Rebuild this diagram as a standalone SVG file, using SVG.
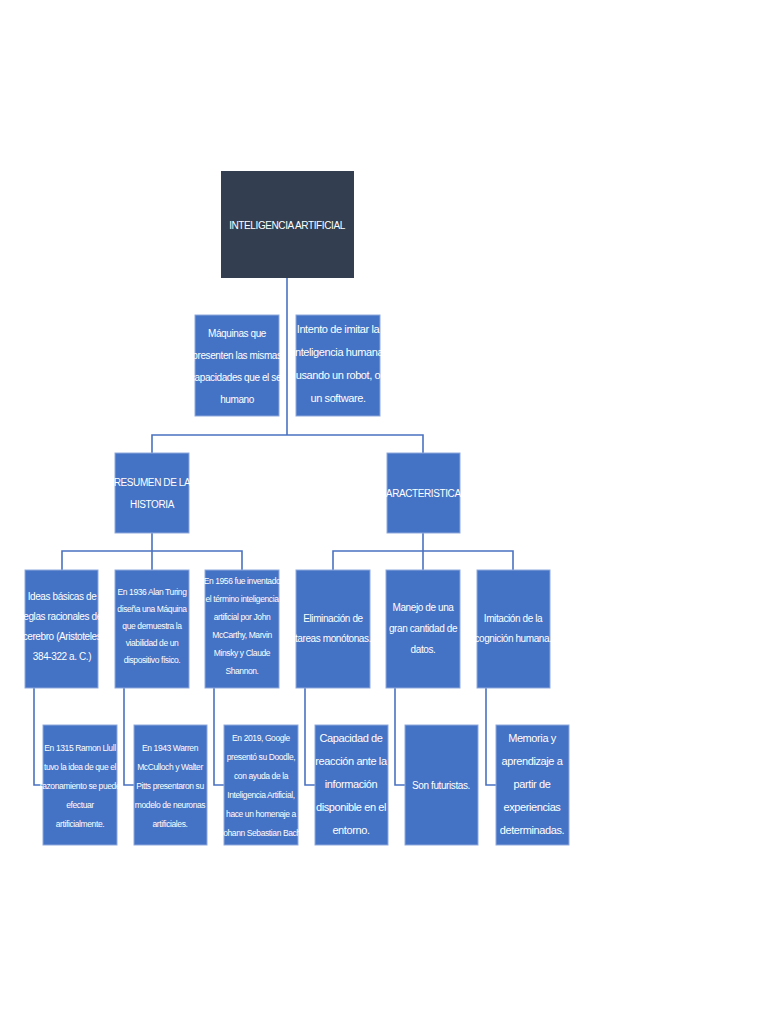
<svg xmlns="http://www.w3.org/2000/svg" width="768" height="1024" viewBox="0 0 768 1024">
<style>
.b{fill:#4472c4;stroke:#8fa9dc;stroke-width:1}
.t{font-family:"Liberation Sans",Arial,sans-serif;font-size:10px;fill:#fff;text-anchor:middle;letter-spacing:-0.4px}
.s{font-size:8.5px}
.c{fill:none;stroke:#4a72c0;stroke-width:1.6}
</style>
<rect width="768" height="1024" fill="#fff"/>
<g id="connectors">
<path class="c" d="M287 278V435M152 453V435H423V453M152 533V551M62 570V551H242V570M152 551V570M423 533V551M333 570V551H513V570M423 551V570"/>
<path class="c" d="M34 688V785H43M124 688V785H134M214 688V785H224M305 688V785H315M395 688V785H405M486 688V785H496"/>
</g>
<g id="root"><rect x="221" y="171" width="133" height="107" fill="#333f50"/><text class="t" x="287" y="229">INTELIGENCIA ARTIFICIAL</text></g>
<g id="n1"><rect class="b" x="195" y="315" width="84" height="101"/><text class="t" x="237"><tspan x="237" y="337">Máquinas que</tspan><tspan x="237" y="359">presenten las mismas</tspan><tspan x="237" y="381">capacidades que el ser</tspan><tspan x="237" y="403">humano</tspan></text></g>
<g id="n2"><rect class="b" x="296" y="315" width="84" height="101"/><text class="t" x="338" style="font-size:11px"><tspan x="338" y="333">Intento de imitar la</tspan><tspan x="338" y="356">inteligencia humana</tspan><tspan x="338" y="379">usando un robot, o</tspan><tspan x="338" y="402">un software.</tspan></text></g>
<g id="resumen"><rect class="b" x="115" y="453" width="74" height="80"/><text class="t"><tspan x="152" y="486">RESUMEN DE LA</tspan><tspan x="152" y="508">HISTORIA</tspan></text></g>
<g id="caract"><rect class="b" x="387" y="453" width="73" height="80"/><text class="t" x="423" y="497">CARACTERISTICAS</text></g>
<g id="h1"><rect class="b" x="25" y="570" width="73" height="118"/><text class="t"><tspan x="62" y="600">Ideas básicas de</tspan><tspan x="62" y="620">reglas racionales del</tspan><tspan x="62" y="640">cerebro (Aristoteles</tspan><tspan x="62" y="660">384-322 a. C.)</tspan></text></g>
<g id="h2"><rect class="b" x="115" y="570" width="74" height="118"/><text class="t s"><tspan x="152" y="595">En 1936 Alan Turing</tspan><tspan x="152" y="612">diseña una Máquina</tspan><tspan x="152" y="629">que demuestra la</tspan><tspan x="152" y="646">viabilidad de un</tspan><tspan x="152" y="663">dispositivo físico.</tspan></text></g>
<g id="h3"><rect class="b" x="205" y="570" width="74" height="118"/><text class="t s"><tspan x="242" y="584">En 1956 fue inventado</tspan><tspan x="242" y="602">el término inteligencia</tspan><tspan x="242" y="620">artificial por John</tspan><tspan x="242" y="638">McCarthy, Marvin</tspan><tspan x="242" y="656">Minsky y Claude</tspan><tspan x="242" y="674">Shannon.</tspan></text></g>
<g id="c1"><rect class="b" x="296" y="570" width="74" height="118"/><text class="t"><tspan x="333" y="622">Eliminación de</tspan><tspan x="333" y="642">tareas monótonas.</tspan></text></g>
<g id="c2"><rect class="b" x="386" y="570" width="74" height="118"/><text class="t"><tspan x="423" y="611">Manejo de una</tspan><tspan x="423" y="632">gran cantidad de</tspan><tspan x="423" y="653">datos.</tspan></text></g>
<g id="c3"><rect class="b" x="477" y="570" width="73" height="118"/><text class="t"><tspan x="513" y="622">Imitación de la</tspan><tspan x="513" y="642">cognición humana.</tspan></text></g>
<g id="b1"><rect class="b" x="43" y="725" width="74" height="120"/><text class="t s"><tspan x="80" y="751">En 1315 Ramon Llull</tspan><tspan x="80" y="770">tuvo la idea de que el</tspan><tspan x="80" y="789">razonamiento se puede</tspan><tspan x="80" y="808">efectuar</tspan><tspan x="80" y="827">artificialmente.</tspan></text></g>
<g id="b2"><rect class="b" x="134" y="725" width="73" height="120"/><text class="t s"><tspan x="170" y="751">En 1943 Warren</tspan><tspan x="170" y="770">McCulloch y Walter</tspan><tspan x="170" y="789">Pitts presentaron su</tspan><tspan x="170" y="808">modelo de neuronas</tspan><tspan x="170" y="827">artificiales.</tspan></text></g>
<g id="b3"><rect class="b" x="224" y="725" width="74" height="120"/><text class="t s"><tspan x="261" y="741">En 2019, Google</tspan><tspan x="261" y="760">presentó su Doodle,</tspan><tspan x="261" y="779">con ayuda de la</tspan><tspan x="261" y="798">Inteligencia Artificial,</tspan><tspan x="261" y="817">hace un homenaje a</tspan><tspan x="261" y="836">Johann Sebastian Bach.</tspan></text></g>
<g id="b4"><rect class="b" x="315" y="725" width="73" height="120"/><text class="t" style="font-size:11px"><tspan x="351" y="742">Capacidad de</tspan><tspan x="351" y="765">reacción ante la</tspan><tspan x="351" y="788">información</tspan><tspan x="351" y="811">disponible en el</tspan><tspan x="351" y="834">entorno.</tspan></text></g>
<g id="b5"><rect class="b" x="405" y="725" width="73" height="120"/><text class="t" x="441" y="789">Son futuristas.</text></g>
<g id="b6"><rect class="b" x="496" y="725" width="73" height="120"/><text class="t" style="font-size:11px"><tspan x="532" y="742">Memoria y</tspan><tspan x="532" y="765">aprendizaje a</tspan><tspan x="532" y="788">partir de</tspan><tspan x="532" y="811">experiencias</tspan><tspan x="532" y="834">determinadas.</tspan></text></g>
</svg>
